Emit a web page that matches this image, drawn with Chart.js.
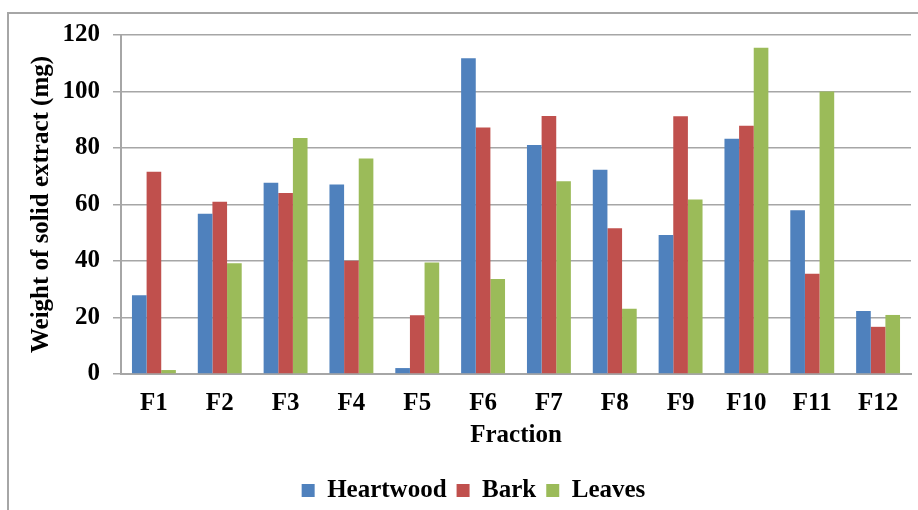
<!DOCTYPE html>
<html>
<head>
<meta charset="utf-8">
<script src="https://cdn.jsdelivr.net/npm/chart.js@4/dist/chart.umd.min.js"></script>
<style>
  html, body { margin: 0; padding: 0; background: #fff; }
  #wrap { position: relative; width: 918px; height: 510px; }
  #frame { position: absolute; left: 7px; top: 12px; right: -5px; bottom: -5px;
           border-left: 2px solid #a6a6a6; border-top: 2px solid #a6a6a6; }
  canvas { position: absolute; left: 0; top: 0; }
</style>
</head>
<body>
<div id="wrap">
  <div id="frame"></div>
  <canvas id="extractChart" width="918" height="510"></canvas>
</div>
<script>
const fractions = ["F1", "F2", "F3", "F4", "F5", "F6", "F7", "F8", "F9", "F10", "F11", "F12"];
const heartwood = [27.9, 56.7, 67.7, 67.1, 2.1, 111.8, 81.1, 72.3, 49.2, 83.3, 58.0, 22.3];
const bark      = [71.6, 61.0, 64.1, 40.1, 20.8, 87.3, 91.3, 51.6, 91.2, 87.9, 35.5, 16.7];
const leaves    = [1.4, 39.2, 83.5, 76.3, 39.5, 33.6, 68.2, 23.1, 61.8, 115.5, 100.0, 20.9];

const FONT = { family: "'Liberation Serif', 'Times New Roman', serif", size: 25, weight: "bold" };

// legend sits a bit right of centre in the original
const legendShift = {
    id: "legendShift",
    afterLayout(chart) {
        chart.legend.left += 18;
        chart.legend.right += 18;
    }
};

const ctx = document.getElementById("extractChart").getContext('2d');

new Chart(ctx, {
    type: "bar",
    data: {
        labels: fractions,
        datasets: [
            { label: "Heartwood", data: heartwood, backgroundColor: "#4f81bd" },
            { label: "Bark", data: bark, backgroundColor: "#c0504d" },
            { label: "Leaves", data: leaves, backgroundColor: "#9bbb59" }
        ]
    },
    options: {
        responsive: false,
        animation: false,
        categoryPercentage: 0.667,
        barPercentage: 1,
        layout: { padding: { left: 0, right: 7, top: 35, bottom: -3 } },
        plugins: {
            legend: {
                position: "bottom",
                labels: { color: "#000", font: FONT, boxWidth: 13, boxHeight: 13, padding: 10 }
            },
            tooltip: { enabled: false }
        },
        scales: {
            x: {
                grid: { display: false, drawTicks: false },
                border: { color: "#a6a6a6", width: 2 },
                ticks: { color: "#000", font: FONT, padding: 15, maxRotation: 0 },
                title: { display: true, text: "Fraction", color: "#000", font: FONT, padding: { top: 0, bottom: 17 } },
                afterFit: s => { s.height = 94; }
            },
            y: {
                min: 0, max: 120,
                ticks: { stepSize: 20, color: "#000", font: FONT, padding: 13 },
                grid: { color: "#a6a6a6", lineWidth: 1.5, tickLength: 8 },
                border: { color: "#a6a6a6", width: 2 },
                title: { display: true, text: "Weight of solid extract (mg)", color: "#000", font: FONT, padding: { top: 27, bottom: 0 } },
                afterFit: s => { s.width = 121; }
            }
        }
    },
    plugins: [legendShift]
});
</script>
</body>
</html>
